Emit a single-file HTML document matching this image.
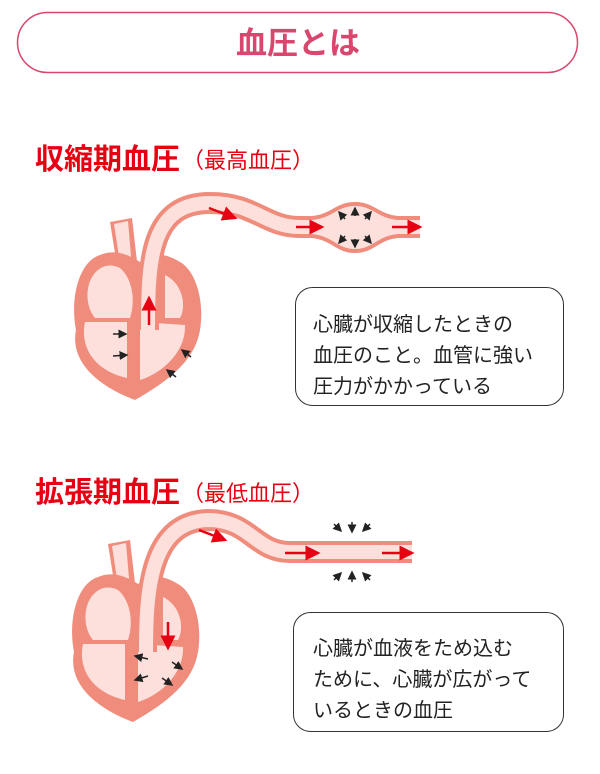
<!DOCTYPE html>
<html><head><meta charset="utf-8"><style>
body{margin:0;background:#fff;}
svg{display:block}
text{font-family:"Liberation Sans","Noto Sans CJK JP",sans-serif;}
</style></head><body>
<svg width="600" height="774" viewBox="0 0 600 774" xmlns="http://www.w3.org/2000/svg">
<defs>
<marker id="ar" markerWidth="6" markerHeight="6" refX="5" refY="3" orient="auto" markerUnits="strokeWidth"><path d="M0,0 L6,3 L0,6 Z" fill="#e60012"/></marker>
<marker id="ak" markerWidth="6" markerHeight="6" refX="5" refY="3" orient="auto" markerUnits="strokeWidth"><path d="M0,0 L6,3 L0,6 Z" fill="#222"/></marker>
<g id="heart">
  <path d="M110,222 L132,218 L138,270 L118,272 Z" fill="#f08c7c"/>
  <path d="M114,224 L128,221 L132,268 L121,270 Z" fill="#fde0dc"/>
  <path d="M100,255 C78,262 70,300 76,330 C70,360 95,385 135,400 C170,380 195,360 200,330 C205,300 195,270 180,262 C160,250 150,255 140,262 C125,252 112,250 100,255 Z" fill="#f08c7c"/>
  <path d="M98,270 C85,280 84,305 95,318 L130,318 C136,300 132,278 120,268 C112,264 104,265 98,270 Z" fill="#fde0dc"/>
  <path d="M85,322 C80,345 92,370 127,378 L127,322 Z" fill="#fde0dc"/>
  <path d="M140,322 L140,380 C165,372 186,350 185,325 Z" fill="#fde0dc"/>
  <path d="M165,275 C182,283 187,305 180,318 L165,318 Z" fill="#fde0dc"/>
</g>
</defs>

<rect x="17.5" y="12.5" width="560" height="60" rx="30" fill="#fff" stroke="#d9476e" stroke-width="1.5"/>
<text x="298" y="54" text-anchor="middle" font-size="31" font-weight="bold" fill="#d9476e">血圧とは</text>

<text x="35" y="169" font-size="29" font-weight="bold" fill="#e60012">収縮期血圧</text>
<text x="182" y="168" font-size="22" fill="#e60012">（最高血圧）</text>

<use href="#heart"/>
<!-- vessel 1 -->
<g fill="none">
<path d="M148,330 C148,260 150,203 210,203 C255,203 265,227 300,227 L325,227" stroke="#f08c7c" stroke-width="22"/>
<path d="M388,227 L420,227" stroke="#f08c7c" stroke-width="22"/>
</g>
<path d="M312,216 C332,214 336,202 355,202 C374,202 378,214 398,216 L398,238 C378,240 374,253 355,253 C336,253 332,240 312,238 Z" fill="#f08c7c"/>
<g fill="none">
<path d="M148,330 C148,260 150,203 210,203 C255,203 265,227 300,227 L325,227" stroke="#fde0dc" stroke-width="14"/>
<path d="M388,227 L420,227" stroke="#fde0dc" stroke-width="14"/>
</g>
<path d="M312,220 C333,218 337,206 355,206 C373,206 377,218 398,220 L398,234 C377,236 373,249 355,249 C337,249 333,236 312,234 Z" fill="#fde0dc"/>
<line x1="209" y1="208" x2="235" y2="218" stroke="#e60012" stroke-width="2.5" marker-end="url(#ar)"/>
<line x1="296" y1="227" x2="322" y2="227" stroke="#e60012" stroke-width="2.5" marker-end="url(#ar)"/>
<line x1="392" y1="227" x2="420" y2="227" stroke="#e60012" stroke-width="2.5" marker-end="url(#ar)"/>
<line x1="149" y1="325" x2="149" y2="298" stroke="#e60012" stroke-width="2.5" marker-end="url(#ar)"/>
<g stroke="#222" stroke-width="1.5">
<line x1="345" y1="219" x2="339" y2="212" marker-end="url(#ak)"/>
<line x1="355" y1="216" x2="355" y2="208" marker-end="url(#ak)"/>
<line x1="365" y1="219" x2="371" y2="212" marker-end="url(#ak)"/>
<line x1="345" y1="236" x2="339" y2="243" marker-end="url(#ak)"/>
<line x1="355" y1="239" x2="355" y2="247" marker-end="url(#ak)"/>
<line x1="365" y1="236" x2="371" y2="243" marker-end="url(#ak)"/>
<line x1="113" y1="334" x2="126" y2="334" marker-end="url(#ak)"/>
<line x1="113" y1="356" x2="127" y2="355" marker-end="url(#ak)"/>
<line x1="191" y1="357" x2="182" y2="350" marker-end="url(#ak)"/>
<line x1="176" y1="377" x2="167" y2="370" marker-end="url(#ak)"/>
</g>

<rect x="295.5" y="287.5" width="268" height="118" rx="17" fill="#fff" stroke="#333" stroke-width="1"/>
<text font-size="20" fill="#222">
<tspan x="313" y="331">心臓が収縮したときの</tspan>
<tspan x="313" y="362">血圧のこと。血管に強い</tspan>
<tspan x="313" y="393">圧力がかかっている</tspan>
</text>

<text x="35" y="502" font-size="29" font-weight="bold" fill="#e60012">拡張期血圧</text>
<text x="182" y="501" font-size="22" fill="#e60012">（最低血圧）</text>

<g transform="translate(-2,322)"><use href="#heart"/></g>
<path d="M146,652 C146,590 150,522 208,520 C250,520 255,552 290,552 L412,552" fill="none" stroke="#f08c7c" stroke-width="22"/>
<path d="M146,652 C146,590 150,522 208,520 C250,520 255,552 290,552 L412,552" fill="none" stroke="#fde0dc" stroke-width="14"/>
<line x1="199" y1="530" x2="225" y2="540" stroke="#e60012" stroke-width="2.5" marker-end="url(#ar)"/>
<line x1="285" y1="553" x2="318" y2="553" stroke="#e60012" stroke-width="2.5" marker-end="url(#ar)"/>
<line x1="382" y1="553" x2="412" y2="553" stroke="#e60012" stroke-width="2.5" marker-end="url(#ar)"/>
<line x1="168" y1="622" x2="168" y2="648" stroke="#e60012" stroke-width="2.5" marker-end="url(#ar)"/>
<g stroke="#222" stroke-width="1.5">
<line x1="334" y1="524" x2="341" y2="531" marker-end="url(#ak)"/>
<line x1="352" y1="522" x2="352" y2="532" marker-end="url(#ak)"/>
<line x1="370" y1="524" x2="363" y2="531" marker-end="url(#ak)"/>
<line x1="334" y1="580" x2="341" y2="573" marker-end="url(#ak)"/>
<line x1="352" y1="582" x2="352" y2="572" marker-end="url(#ak)"/>
<line x1="370" y1="580" x2="363" y2="573" marker-end="url(#ak)"/>
<line x1="148" y1="659" x2="135" y2="656" marker-end="url(#ak)"/>
<line x1="148" y1="676" x2="135" y2="680" marker-end="url(#ak)"/>
<line x1="172" y1="662" x2="182" y2="669" marker-end="url(#ak)"/>
<line x1="162" y1="678" x2="172" y2="685" marker-end="url(#ak)"/>
</g>

<rect x="293.5" y="612.5" width="270" height="119" rx="17" fill="#fff" stroke="#333" stroke-width="1"/>
<text font-size="20" fill="#222">
<tspan x="313" y="655">心臓が血液をため込む</tspan>
<tspan x="313" y="686">ために、心臓が広がって</tspan>
<tspan x="313" y="717">いるときの血圧</tspan>
</text>
</svg>
</body></html>
